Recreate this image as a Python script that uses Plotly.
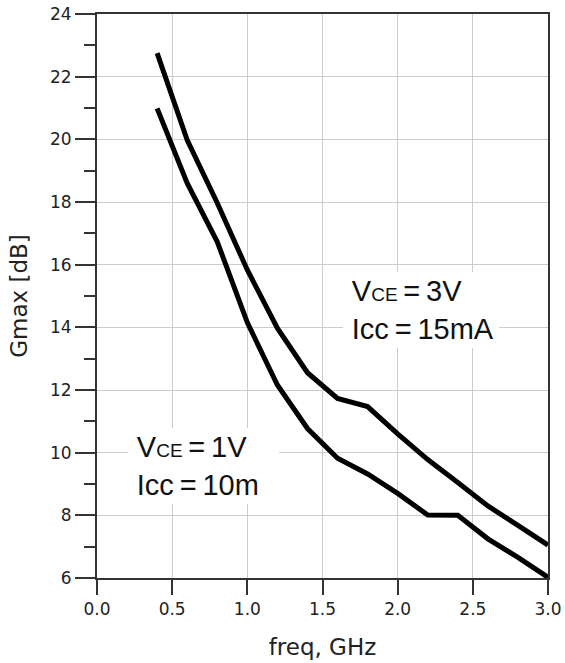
import plotly.graph_objects as go

freq = [0.4, 0.6, 0.8, 1.0, 1.2, 1.4, 1.6, 1.8, 2.0, 2.2, 2.4, 2.6, 2.8, 3.0]
gmax_3v = [22.75, 19.98, 17.97, 15.83, 13.97, 12.55, 11.73, 11.47, 10.6, 9.78, 9.05, 8.3, 7.68, 7.05]
gmax_1v = [20.99, 18.6, 16.73, 14.15, 12.16, 10.77, 9.82, 9.32, 8.7, 8.01, 8.0, 7.25, 6.66, 6.02]

x_ticks = [0.0, 0.5, 1.0, 1.5, 2.0, 2.5, 3.0]
x_tick_labels = ["0.0", "0.5", "1.0", "1.5", "2.0", "2.5", "3.0"]
y_ticks = [6, 8, 10, 12, 14, 16, 18, 20, 22, 24]

fig = go.Figure()
for ys in (gmax_3v, gmax_1v):
    fig.add_trace(go.Scatter(x=freq, y=ys, mode="lines",
                             line=dict(color="black", width=5),
                             showlegend=False, hoverinfo="skip"))

label_font = dict(family="Liberation Sans, Arial, sans-serif", size=29, color="#111")
small = '<span style="font-size:19px">CE</span>'
eq = "\u2009=\u2009"
lead = "\u2009"
fig.add_annotation(x=0.708, y=9.59, xref="x", yref="y",
                   text=lead + "V" + small + eq + "1V<br>" + lead + "Icc" + eq + "10m",
                   showarrow=False, align="left", width=145,
                   bgcolor="white", borderpad=3, borderwidth=0,
                   font=label_font)
fig.add_annotation(x=2.152, y=14.55, xref="x", yref="y",
                   text=lead + "V" + small + eq + "3V<br>" + lead + "Icc" + eq + "15mA",
                   showarrow=False, align="left", width=150,
                   bgcolor="white", borderpad=3, borderwidth=0,
                   font=label_font)

tick_font = dict(family="DejaVu Sans", size=17, color="#222")
title_font = dict(family="DejaVu Sans", size=23, color="#222")

fig.update_xaxes(range=[0, 3], tickvals=x_ticks, ticktext=x_tick_labels,
                 ticks="outside", ticklen=15, tickwidth=1.5, tickcolor="#333",
                 showgrid=True, gridcolor="#cccccc", gridwidth=1,
                 showline=True, linecolor="#333", linewidth=2, mirror=True,
                 zeroline=False, tickfont=tick_font, automargin=False,
                 title=dict(text="freq, GHz", font=title_font, standoff=20))
fig.update_yaxes(range=[6, 24], tickvals=y_ticks,
                 ticks="outside", ticklen=20, tickwidth=1.5, tickcolor="#333",
                 minor=dict(dtick=1, tick0=0, ticks="outside", ticklen=11,
                            tickcolor="#333", tickwidth=1.5, showgrid=False),
                 showgrid=True, gridcolor="#cccccc", gridwidth=1,
                 showline=True, linecolor="#333", linewidth=2, mirror=True,
                 zeroline=False, tickfont=tick_font, automargin=False,
                 title=dict(text="Gmax [dB]", font=title_font, standoff=16))

fig.update_layout(width=565, height=663,
                  margin=dict(l=97, r=17, t=14, b=85),
                  plot_bgcolor="white", paper_bgcolor="white")

fig.write_html("out.html")
